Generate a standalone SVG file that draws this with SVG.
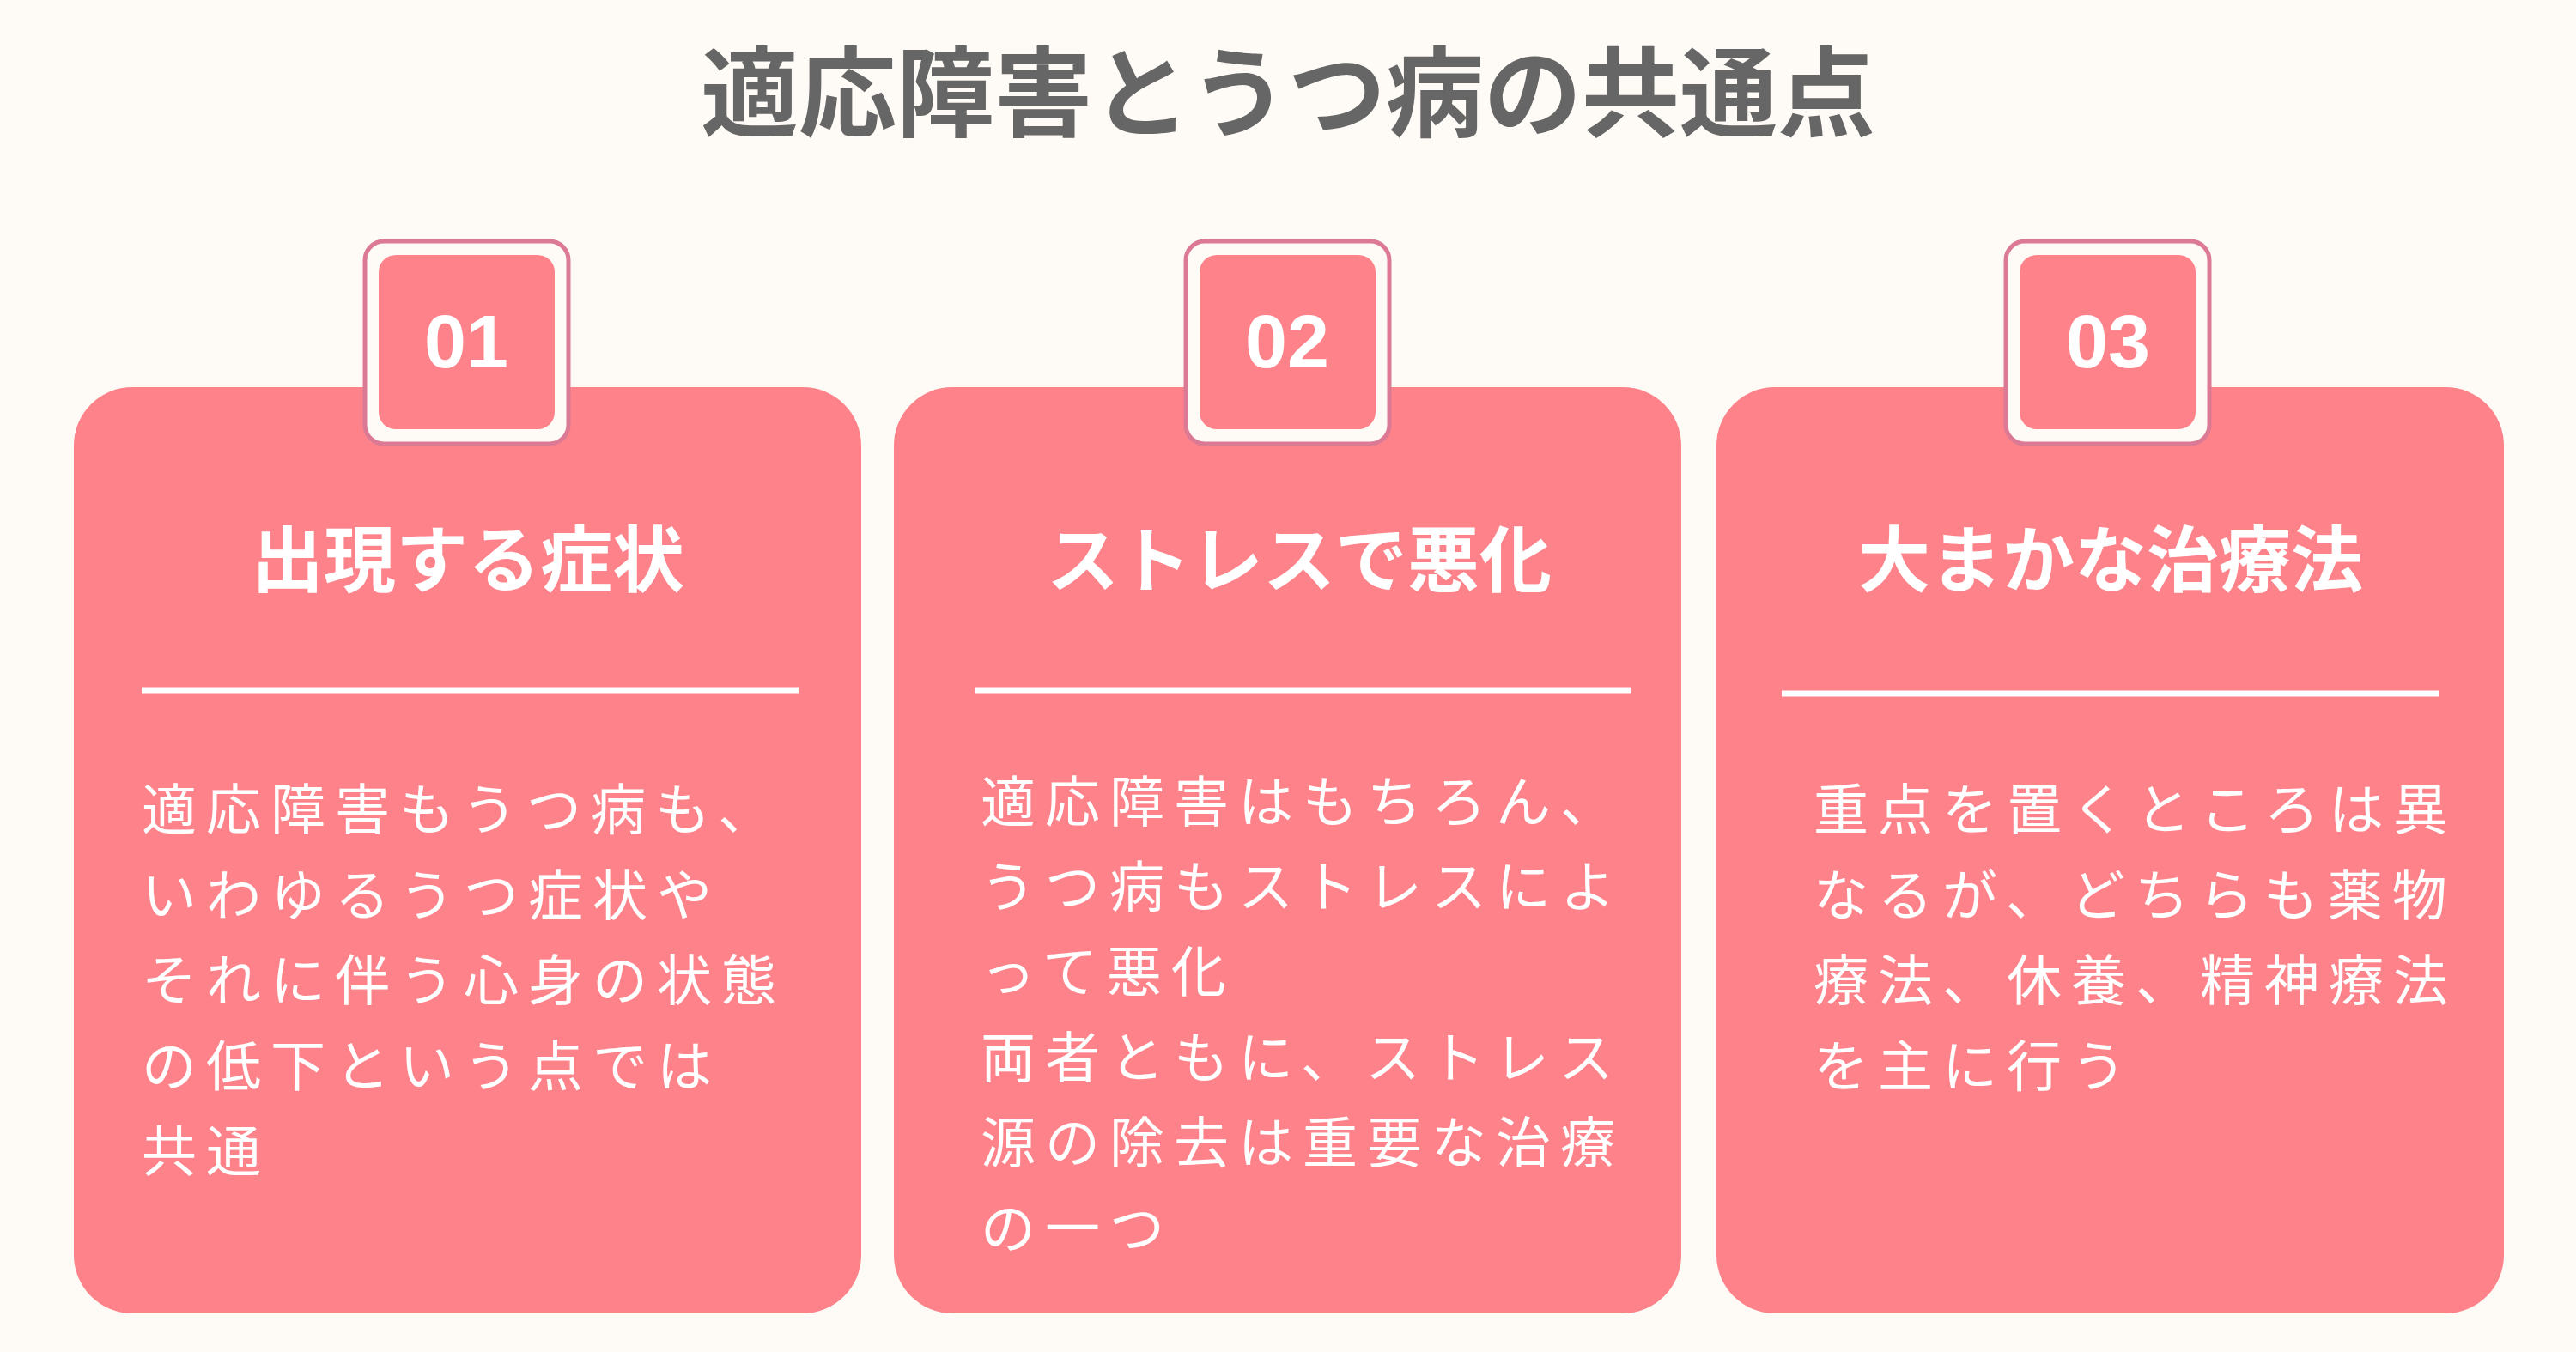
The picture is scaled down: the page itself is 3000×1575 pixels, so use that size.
<svg xmlns="http://www.w3.org/2000/svg" width="3000" height="1575" viewBox="0 0 3000 1575">
<style>
.card{fill:#fe8289}
.tabo{fill:#fefaf6;stroke:#dc7a95;stroke-width:5}
.tabi{fill:#fe8289}
.num{font-family:"Liberation Sans",Arial,sans-serif;font-weight:bold;font-size:88px;fill:#fff;text-anchor:middle}
.ttl{font-family:"Noto Sans CJK JP",sans-serif;font-weight:bold;font-size:84px;fill:#fff;text-anchor:middle}
.body{font-family:"Noto Sans CJK JP",sans-serif;font-size:64px;fill:#fff;letter-spacing:11px}
.rule{stroke:#fff;stroke-width:7}
</style>
<rect width="3000" height="1575" fill="#fefaf6"/>
<text x="1500" y="150" font-family="'Noto Sans CJK JP',sans-serif" font-weight="bold" font-size="114" fill="#666" text-anchor="middle">適応障害とうつ病の共通点</text>
<g id="card1">
<rect class="card" x="86" y="451" width="917" height="1079" rx="68"/>
<rect class="tabo" x="425" y="281" width="237" height="236" rx="22"/>
<rect class="tabi" x="441" y="297" width="205" height="203" rx="20"/>
<text class="num" x="543" y="428">01</text>
<text class="ttl" x="545" y="683">出現する症状</text>
<line class="rule" x1="165" y1="804" x2="930" y2="804"/>
<text class="body"><tspan x="165" y="966">適応障害もうつ病も、</tspan><tspan x="165" y="1066">いわゆるうつ症状や</tspan><tspan x="165" y="1165">それに伴う心身の状態</tspan><tspan x="165" y="1265">の低下という点では</tspan><tspan x="165" y="1364">共通</tspan></text>
</g>
<g id="card2">
<rect class="card" x="1041" y="451" width="917" height="1079" rx="68"/>
<rect class="tabo" x="1381" y="281" width="237" height="236" rx="22"/>
<rect class="tabi" x="1397" y="297" width="205" height="203" rx="20"/>
<text class="num" x="1499" y="428">02</text>
<text class="ttl" x="1513" y="683">ストレスで悪化</text>
<line class="rule" x1="1135" y1="804" x2="1900" y2="804"/>
<text class="body"><tspan x="1142" y="957">適応障害はもちろん、</tspan><tspan x="1142" y="1056">うつ病もストレスによ</tspan><tspan x="1142" y="1155">って悪化</tspan><tspan x="1142" y="1255">両者ともに、ストレス</tspan><tspan x="1142" y="1354">源の除去は重要な治療</tspan><tspan x="1142" y="1454">の一つ</tspan></text>
</g>
<g id="card3">
<rect class="card" x="1999" y="451" width="917" height="1079" rx="68"/>
<rect class="tabo" x="2336" y="281" width="237" height="236" rx="22"/>
<rect class="tabi" x="2352" y="297" width="205" height="203" rx="20"/>
<text class="num" x="2455" y="428">03</text>
<text class="ttl" x="2458" y="683">大まかな治療法</text>
<line class="rule" x1="2075" y1="808" x2="2840" y2="808"/>
<text class="body"><tspan x="2112" y="966">重点を置くところは異</tspan><tspan x="2112" y="1066">なるが、どちらも薬物</tspan><tspan x="2112" y="1165">療法、休養、精神療法</tspan><tspan x="2112" y="1265">を主に行う</tspan></text>
</g>
<g id="connectors"/>
</svg>
